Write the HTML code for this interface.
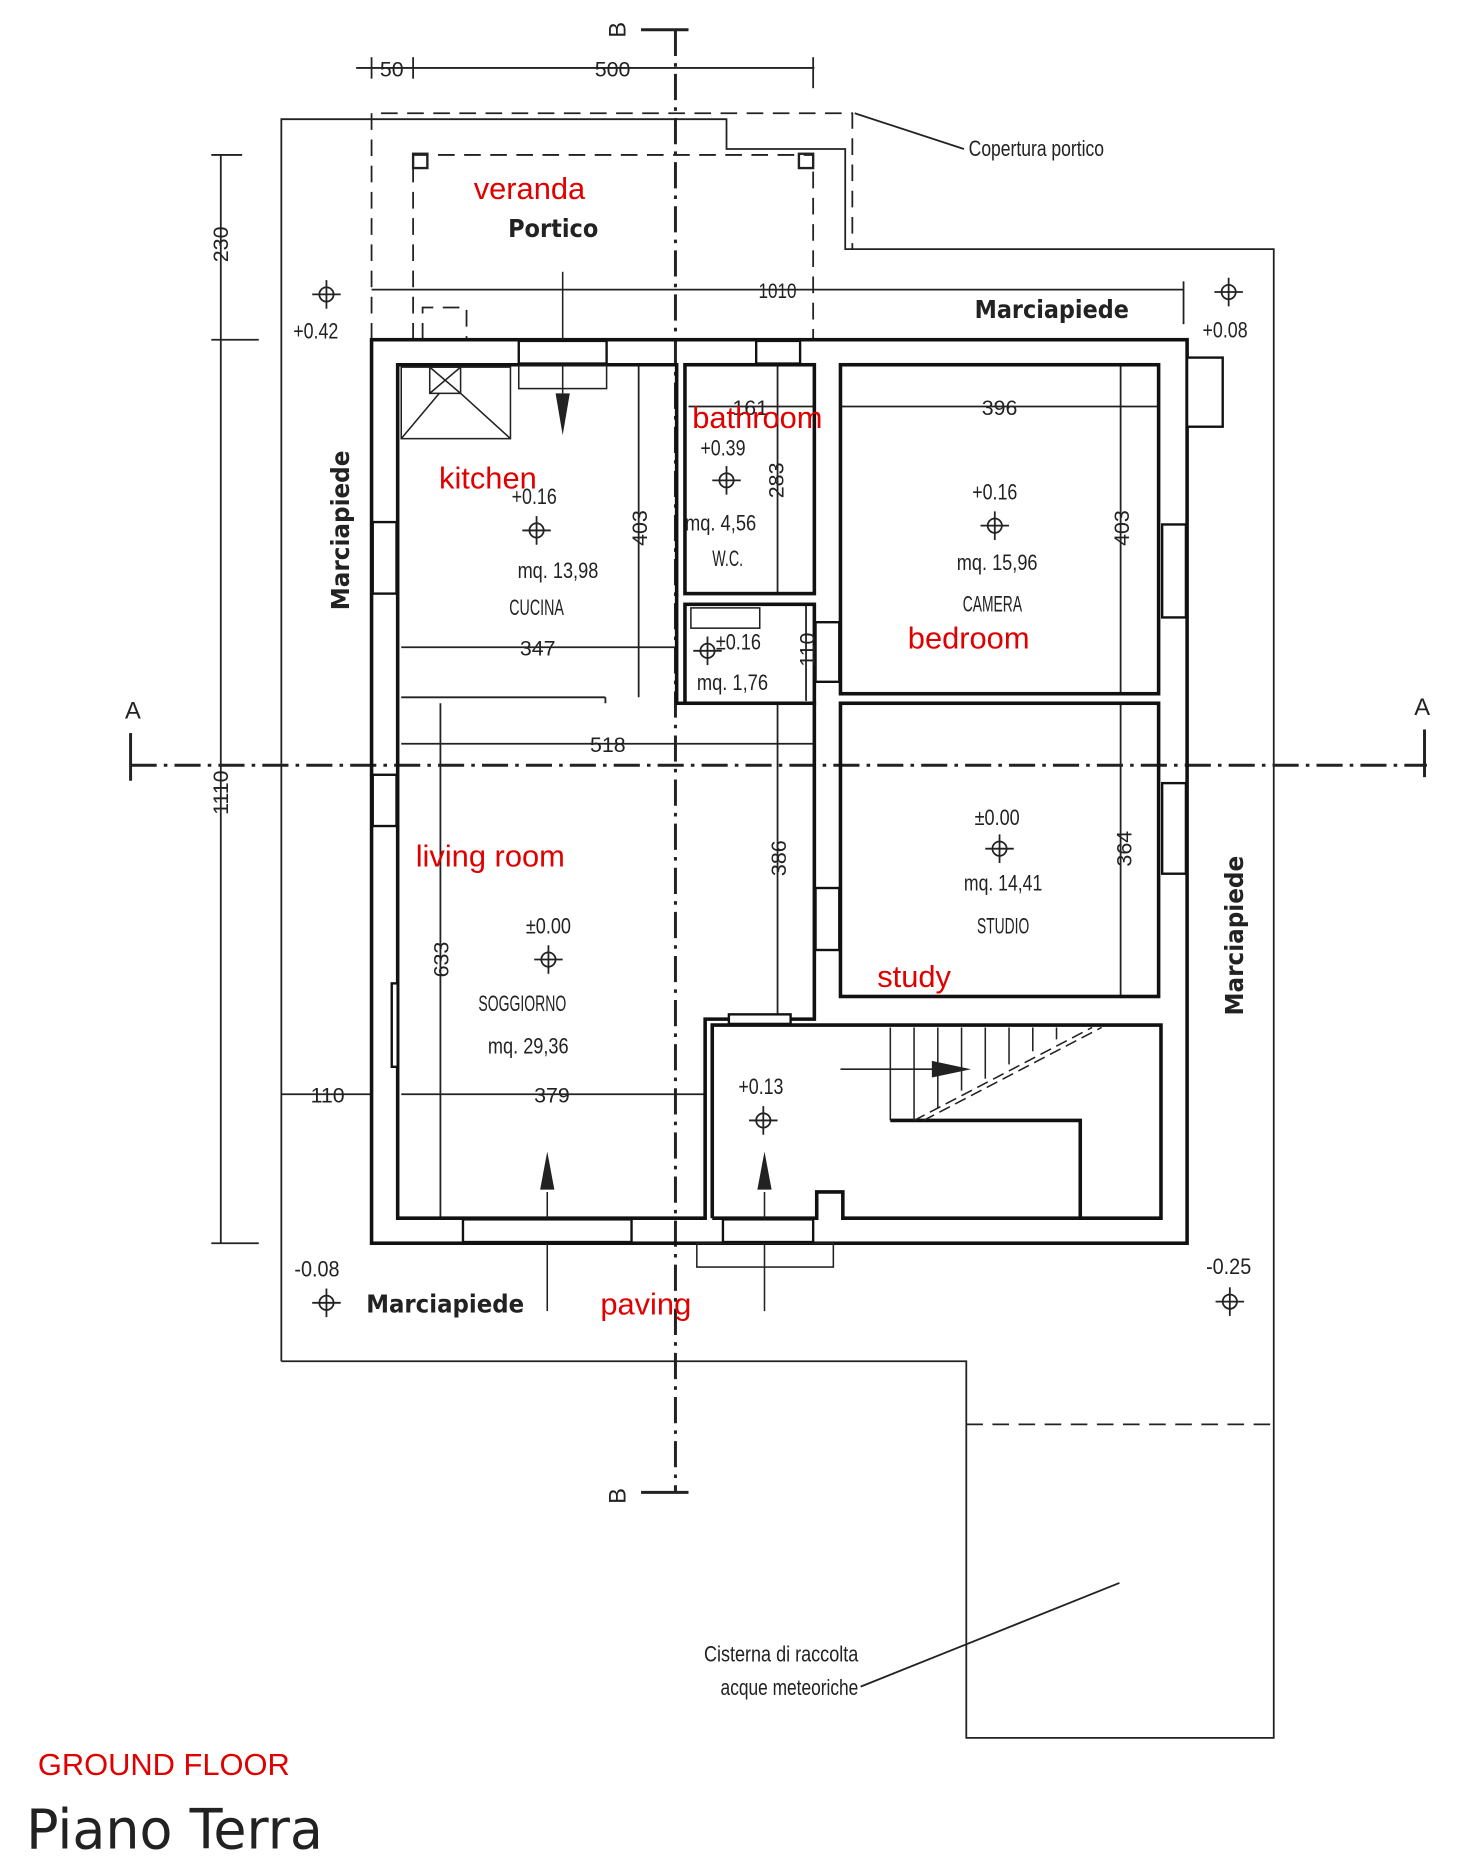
<!DOCTYPE html>
<html><head><meta charset="utf-8"><style>
html,body{margin:0;padding:0;background:#fff;}
svg{display:block}
text{font-family:"Liberation Sans Narrow","Liberation Sans",sans-serif;fill:#222}
.r{fill:#e00000;font-family:"Liberation Sans",sans-serif}
.b{font-family:"DejaVu Sans","Liberation Sans",sans-serif;font-weight:bold;fill:#222}
</style></head><body>
<svg width="1472" height="1869" viewBox="0 0 1240 1568" preserveAspectRatio="none" xmlns="http://www.w3.org/2000/svg">
<defs>
<g id="ch"><circle r="6" fill="none" stroke="#222" stroke-width="1.5"/><line x1="-12" y1="0" x2="12" y2="0" stroke="#222" stroke-width="1.5"/><line x1="0" y1="-12" x2="0" y2="12" stroke="#222" stroke-width="1.5"/></g>
</defs>
<g fill="none" stroke="#222" stroke-width="1.5">
<polyline points="237,1142 237,100 612,100 612,125 712,125 712,209 1073,209 1073,1458 814,1458 814,1142 237,1142"/>
<g stroke-dasharray="14,8">
<polyline points="313,285 313,95 718,95 718,209"/>
<polyline points="348,285 348,130 685,130 685,285"/>
<line x1="814" y1="1195" x2="1073" y2="1195"/>
<polyline points="356,285 356,258 393,258 393,285"/>
</g>
<rect x="348" y="129" width="12" height="12" stroke-width="2"/>
<rect x="673" y="129" width="12" height="12" stroke-width="2"/>
<line x1="300" y1="57" x2="686" y2="57"/>
<line x1="313" y1="48" x2="313" y2="66"/><line x1="348" y1="48" x2="348" y2="66"/><line x1="685" y1="48" x2="685" y2="74"/>
<line x1="313" y1="243" x2="997" y2="243"/><line x1="997" y1="236" x2="997" y2="272"/>
<line x1="186" y1="130" x2="186" y2="1043"/><line x1="178" y1="130" x2="204" y2="130"/><line x1="178" y1="285" x2="218" y2="285"/><line x1="178" y1="1043" x2="218" y2="1043"/>
<line x1="720" y1="95" x2="812" y2="125"/>
<line x1="725" y1="1415" x2="943" y2="1328"/>
<line x1="237" y1="918" x2="313" y2="918"/>
<line x1="338" y1="918" x2="594" y2="918"/>
<line x1="338" y1="543" x2="570" y2="543"/>
<line x1="338" y1="624" x2="686" y2="624"/>
<line x1="708" y1="341" x2="976" y2="341"/>
<line x1="580" y1="341" x2="686" y2="341"/>
<line x1="538" y1="306" x2="538" y2="585"/>
<line x1="944" y1="306" x2="944" y2="582"/>
<line x1="944" y1="590" x2="944" y2="836"/>
<line x1="655" y1="306" x2="655" y2="498"/>
<line x1="679" y1="507" x2="679" y2="588"/>
<line x1="655" y1="590" x2="655" y2="855"/>
<line x1="371" y1="590" x2="371" y2="1022"/>
<line x1="338" y1="585" x2="510" y2="585"/><line x1="510" y1="585" x2="510" y2="590"/>
</g>
<g stroke="#222" stroke-width="2.5" stroke-dasharray="22,6,3,6" fill="none">
<line x1="110" y1="642" x2="1202" y2="642"/>
<line x1="569" y1="25" x2="569" y2="1252"/>
</g>
<g stroke="#222" stroke-width="2.5" fill="none">
<line x1="110" y1="615" x2="110" y2="655"/><line x1="1200" y1="612" x2="1200" y2="652"/>
<line x1="540" y1="25" x2="580" y2="25"/><line x1="540" y1="1252" x2="580" y2="1252"/>
</g>
<g fill="none" stroke="#111" stroke-width="3">
<rect x="313" y="285" width="687" height="758"/>
<polygon points="335,306 570,306 570,590 686,590 686,855 594,855 594,1022 335,1022"/>
<rect x="577" y="306" width="109" height="192"/>
<rect x="577" y="507" width="109" height="83"/>
<rect x="708" y="306" width="268" height="276"/>
<rect x="708" y="590" width="268" height="246"/>
<polyline points="600,1022 600,860 978,860 978,1022 710,1022 710,1000 688,1000 688,1022 600,1022"/>
<polyline points="750,940 910,940 910,1022"/>
</g>
<g stroke="#222" stroke-width="1.3" fill="none">
<line x1="750" y1="862" x2="750" y2="940"/><line x1="770" y1="862" x2="770" y2="940"/><line x1="790" y1="862" x2="790" y2="930"/><line x1="810" y1="862" x2="810" y2="915"/><line x1="830" y1="862" x2="830" y2="905"/><line x1="850" y1="862" x2="850" y2="893"/><line x1="870" y1="862" x2="870" y2="882"/><line x1="890" y1="862" x2="890" y2="872"/>
<line x1="770" y1="940" x2="920" y2="862" stroke-dasharray="10,5"/>
<line x1="778" y1="940" x2="928" y2="862" stroke-dasharray="10,5"/>
<line x1="708" y1="897" x2="790" y2="897"/>
<rect x="338" y="308" width="92" height="60"/>
<rect x="362" y="308" width="26" height="22"/><line x1="362" y1="308" x2="388" y2="330"/><line x1="388" y1="308" x2="362" y2="330"/>
<line x1="338" y1="368" x2="370" y2="330"/><line x1="388" y1="330" x2="430" y2="368"/>
<rect x="437" y="306" width="74" height="20"/>
<rect x="582" y="510" width="58" height="17"/>
<rect x="587" y="1043" width="115" height="20"/>
<line x1="474" y1="228" x2="474" y2="330"/>
<line x1="461" y1="1000" x2="461" y2="1100"/>
<line x1="644" y1="1000" x2="644" y2="1100"/>
</g>
<g fill="#fff" stroke="#111" stroke-width="2">
<rect x="314" y="438" width="20" height="60"/><rect x="314" y="650" width="20" height="43"/>
<rect x="437" y="286" width="74" height="19"/><rect x="637" y="286" width="37" height="19"/>
<rect x="979" y="440" width="20" height="78"/><rect x="979" y="657" width="20" height="76"/>
<rect x="390" y="1023" width="142" height="19"/><rect x="609" y="1023" width="76" height="19"/>
<rect x="687" y="522" width="20" height="50"/><rect x="687" y="745" width="20" height="52"/>
<rect x="614" y="851" width="52" height="8"/>
<rect x="1000" y="300" width="30" height="58"/>
<rect x="330" y="825" width="5" height="70"/>
</g>
<g fill="#222">
<polygon points="468,330 480,330 474,365"/>
<polygon points="455,998 467,998 461,966"/>
<polygon points="638,998 650,998 644,966"/>
<polygon points="785,890 785,904 818,897"/>
</g>
<use href="#ch" x="275" y="247"/><use href="#ch" x="1035" y="245"/>
<use href="#ch" x="452" y="445"/><use href="#ch" x="612" y="403"/><use href="#ch" x="838" y="441"/>
<use href="#ch" x="596" y="546"/><use href="#ch" x="842" y="712"/><use href="#ch" x="462" y="805"/>
<use href="#ch" x="643" y="940"/><use href="#ch" x="275" y="1093"/><use href="#ch" x="1036" y="1092"/>
<g font-size="19">
<text x="330" y="64" text-anchor="middle" font-size="18">50</text>
<text x="516" y="64" text-anchor="middle" font-size="18">500</text>
<text x="655" y="250" text-anchor="middle" font-size="18" textLength="32" lengthAdjust="spacingAndGlyphs">1010</text>
<text x="816" y="131" textLength="114" lengthAdjust="spacingAndGlyphs">Copertura portico</text>
<text x="266" y="284" text-anchor="middle" textLength="38" lengthAdjust="spacingAndGlyphs">+0.42</text>
<text x="1032" y="283" text-anchor="middle" textLength="38" lengthAdjust="spacingAndGlyphs">+0.08</text>
<text x="632" y="348" text-anchor="middle" font-size="18">161</text>
<text x="842" y="348" text-anchor="middle" font-size="18">396</text>
<text x="609" y="382" text-anchor="middle" textLength="38" lengthAdjust="spacingAndGlyphs">+0.39</text>
<text x="607" y="445" text-anchor="middle" textLength="60" lengthAdjust="spacingAndGlyphs">mq. 4,56</text>
<text x="613" y="475" text-anchor="middle" textLength="26" lengthAdjust="spacingAndGlyphs">W.C.</text>
<text x="450" y="423" text-anchor="middle" textLength="38" lengthAdjust="spacingAndGlyphs">+0.16</text>
<text x="470" y="485" text-anchor="middle" textLength="68" lengthAdjust="spacingAndGlyphs">mq. 13,98</text>
<text x="452" y="516" text-anchor="middle" textLength="46" lengthAdjust="spacingAndGlyphs">CUCINA</text>
<text x="453" y="550" text-anchor="middle" font-size="18">347</text>
<text x="838" y="419" text-anchor="middle" textLength="38" lengthAdjust="spacingAndGlyphs">+0.16</text>
<text x="840" y="478" text-anchor="middle" textLength="68" lengthAdjust="spacingAndGlyphs">mq. 15,96</text>
<text x="836" y="513" text-anchor="middle" textLength="50" lengthAdjust="spacingAndGlyphs">CAMERA</text>
<text x="622" y="545" text-anchor="middle" textLength="38" lengthAdjust="spacingAndGlyphs">±0.16</text>
<text x="617" y="579" text-anchor="middle" textLength="60" lengthAdjust="spacingAndGlyphs">mq. 1,76</text>
<text x="512" y="631" text-anchor="middle" font-size="18">518</text>
<text x="840" y="692" text-anchor="middle" textLength="38" lengthAdjust="spacingAndGlyphs">±0.00</text>
<text x="845" y="747" text-anchor="middle" textLength="66" lengthAdjust="spacingAndGlyphs">mq. 14,41</text>
<text x="845" y="783" text-anchor="middle" textLength="44" lengthAdjust="spacingAndGlyphs">STUDIO</text>
<text x="462" y="783" text-anchor="middle" textLength="38" lengthAdjust="spacingAndGlyphs">±0.00</text>
<text x="440" y="848" text-anchor="middle" textLength="74" lengthAdjust="spacingAndGlyphs">SOGGIORNO</text>
<text x="445" y="884" text-anchor="middle" textLength="68" lengthAdjust="spacingAndGlyphs">mq. 29,36</text>
<text x="276" y="925" text-anchor="middle" font-size="18">110</text>
<text x="465" y="925" text-anchor="middle" font-size="18">379</text>
<text x="641" y="918" text-anchor="middle" textLength="38" lengthAdjust="spacingAndGlyphs">+0.13</text>
<text x="267" y="1071" text-anchor="middle" textLength="38" lengthAdjust="spacingAndGlyphs">-0.08</text>
<text x="1035" y="1069" text-anchor="middle" textLength="38" lengthAdjust="spacingAndGlyphs">-0.25</text>
<text x="593" y="1394" textLength="130" lengthAdjust="spacingAndGlyphs">Cisterna di raccolta</text>
<text x="607" y="1422" textLength="116" lengthAdjust="spacingAndGlyphs">acque meteoriche</text>
<text transform="translate(192,205) rotate(-90)" text-anchor="middle" font-size="18">230</text>
<text transform="translate(192,665) rotate(-90)" text-anchor="middle" font-size="18">1110</text>
<text transform="translate(545,443) rotate(-90)" text-anchor="middle" font-size="18">403</text>
<text transform="translate(951,443) rotate(-90)" text-anchor="middle" font-size="18">403</text>
<text transform="translate(660,403) rotate(-90)" text-anchor="middle" font-size="18">283</text>
<text transform="translate(686,545) rotate(-90)" text-anchor="middle" font-size="18">110</text>
<text transform="translate(662,720) rotate(-90)" text-anchor="middle" font-size="18">386</text>
<text transform="translate(953,712) rotate(-90)" text-anchor="middle" font-size="18">364</text>
<text transform="translate(378,805) rotate(-90)" text-anchor="middle" font-size="18">633</text>
<text x="112" y="603" text-anchor="middle" font-size="20">A</text>
<text x="1198" y="600" text-anchor="middle" font-size="20">A</text>
<text transform="translate(527,25) rotate(-90)" text-anchor="middle" font-size="20">B</text>
<text transform="translate(527,1255) rotate(-90)" text-anchor="middle" font-size="20">B</text>
</g>
<g class="b" font-size="21">
<text class="b" x="466" y="199" text-anchor="middle" textLength="76" lengthAdjust="spacingAndGlyphs">Portico</text>
<text class="b" x="886" y="267" text-anchor="middle" textLength="130" lengthAdjust="spacingAndGlyphs">Marciapiede</text>
<text class="b" x="375" y="1101" text-anchor="middle" textLength="133" lengthAdjust="spacingAndGlyphs">Marciapiede</text>
<text class="b" transform="translate(294,445) rotate(-90)" text-anchor="middle" textLength="134" lengthAdjust="spacingAndGlyphs">Marciapiede</text>
<text class="b" transform="translate(1047,785) rotate(-90)" text-anchor="middle" textLength="134" lengthAdjust="spacingAndGlyphs">Marciapiede</text>
</g>
<g font-size="26">
<text class="r" x="446" y="167" text-anchor="middle">veranda</text>
<text class="r" x="638" y="359" text-anchor="middle">bathroom</text>
<text class="r" x="411" y="410" text-anchor="middle">kitchen</text>
<text class="r" x="816" y="544" text-anchor="middle">bedroom</text>
<text class="r" x="413" y="727" text-anchor="middle">living room</text>
<text class="r" x="770" y="828" text-anchor="middle">study</text>
<text class="r" x="544" y="1103" text-anchor="middle">paving</text>
<text class="r" x="138" y="1489" text-anchor="middle">GROUND FLOOR</text>
</g>
<text x="22" y="1551" font-size="46" textLength="250" lengthAdjust="spacingAndGlyphs" style="font-family:'DejaVu Sans',sans-serif" fill="#222">Piano Terra</text>
</svg>
</body></html>
